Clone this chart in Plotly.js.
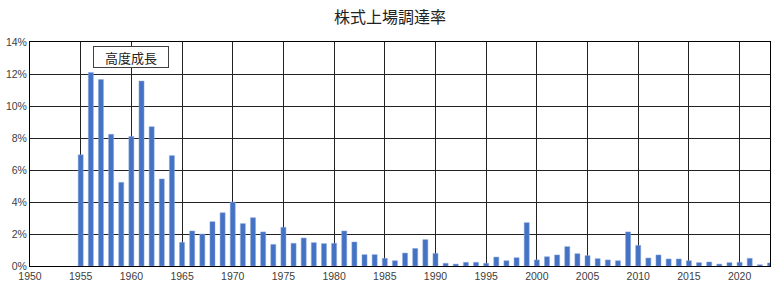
<!DOCTYPE html>
<html><head><meta charset="utf-8">
<script src="https://cdn.plot.ly/plotly-3.0.1.min.js"></script>
<style>html,body{margin:0;padding:0;background:#fff}#c{width:780px;height:291px}</style>
</head><body><div id="c"></div>
<script>
const years = [1955,1956,1957,1958,1959,1960,1961,1962,1963,1964,1965,1966,1967,1968,1969,1970,1971,1972,1973,1974,1975,1976,1977,1978,1979,1980,1981,1982,1983,1984,1985,1986,1987,1988,1989,1990,1991,1992,1993,1994,1995,1996,1997,1998,1999,2000,2001,2002,2003,2004,2005,2006,2007,2008,2009,2010,2011,2012,2013,2014,2015,2016,2017,2018,2019,2020,2021,2022,2023];
const rates = [6.95,12.1,11.65,8.23,5.23,8.1,11.56,8.71,5.44,6.9,1.48,2.19,2.0,2.77,3.33,4.0,2.65,3.02,2.13,1.35,2.42,1.42,1.75,1.46,1.4,1.42,2.19,1.5,0.71,0.71,0.48,0.33,0.81,1.1,1.65,0.79,0.17,0.12,0.23,0.23,0.17,0.56,0.33,0.52,2.71,0.38,0.58,0.69,1.21,0.77,0.65,0.46,0.38,0.33,2.13,1.29,0.5,0.69,0.44,0.44,0.33,0.21,0.25,0.12,0.21,0.23,0.48,0.08,0.19];
const titleText = '株式上場調達率';
const noteText = '高度成長';
const yTickVals = [0,2,4,6,8,10,12,14];
const yTickText = yTickVals.map(v => v + '%');

const font = '"Noto Sans CJK JP", "Noto Sans", sans-serif';
Plotly.newPlot('c', [{
  type: 'bar', x: years, y: rates, width: 0.5,
  marker: {color: '#4472C4', line: {color: '#8FAADC', width: 0.5}},
  hoverinfo: 'skip'
}], {
  width: 780, height: 291,
  margin: {l: 30, r: 10, t: 42, b: 25},
  paper_bgcolor: '#fff', plot_bgcolor: '#fff',
  showlegend: false,
  title: {text: titleText, x: 0.5, xanchor: 'center', y: 0.94, yanchor: 'middle', font: {family: font, size: 16, color: '#222'}},
  xaxis: {range: [1950, 2023], tickmode: 'linear', tick0: 1950, dtick: 5,
    showgrid: true, gridcolor: '#222', gridwidth: 1,
    showline: true, linecolor: '#000', linewidth: 1, mirror: true,
    ticks: '', zeroline: false, tickfont: {family: 'Liberation Sans, Arial, sans-serif', size: 10.5, color: '#404040'}},
  yaxis: {range: [0, 14], tickvals: yTickVals, ticktext: yTickText,
    showgrid: true, gridcolor: '#222', gridwidth: 1,
    showline: true, linecolor: '#000', linewidth: 1, mirror: true,
    ticks: '', zeroline: false, tickfont: {family: 'Liberation Sans, Arial, sans-serif', size: 10.5, color: '#404040'}},
  annotations: [{x: 1960, y: 13.06, xref: 'x', yref: 'y', text: noteText, showarrow: false,
    font: {family: font, size: 13, color: '#222'}, bgcolor: '#fff', bordercolor: '#404040', borderwidth: 1,
    borderpad: 0, width: 74, height: 20}]
}, {staticPlot: true});
</script></body></html>
